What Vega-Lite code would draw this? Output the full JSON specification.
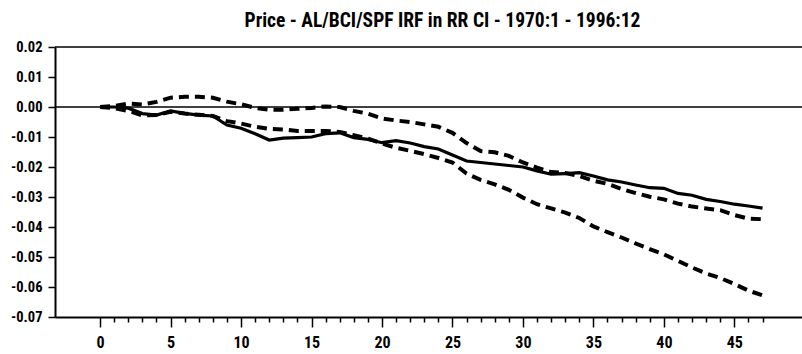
{
  "$schema": "https://vega.github.io/schema/vega-lite/v6.json",
  "autosize": {"type": "none"},
  "padding": {"left": 55, "top": 47, "right": 0, "bottom": 37},
  "width": 747,
  "height": 270,
  "background": "white",
  "title": {
    "text": "Price - AL/BCI/SPF IRF in RR CI - 1970:1 - 1996:12",
    "font": "Roboto Condensed, DejaVu Sans Condensed, sans-serif",
    "fontSize": 19.5,
    "fontWeight": "bold",
    "color": "black",
    "anchor": "middle",
    "dx": 14,
    "offset": 8
  },
  "config": {
    "view": {"stroke": null},
    "axis": {
      "labelFont": "Roboto Condensed, DejaVu Sans Condensed, sans-serif",
      "labelFontWeight": "bold",
      "labelColor": "black",
      "domainColor": "black",
      "tickColor": "black",
      "grid": false
    }
  },
  "datasets": {
    "irf": [
      {"h": 0, "series": "IRF", "value": 0.0},
      {"h": 1, "series": "IRF", "value": 0.0},
      {"h": 2, "series": "IRF", "value": -0.0004},
      {"h": 3, "series": "IRF", "value": -0.0022},
      {"h": 4, "series": "IRF", "value": -0.0027},
      {"h": 5, "series": "IRF", "value": -0.0013},
      {"h": 6, "series": "IRF", "value": -0.0021},
      {"h": 7, "series": "IRF", "value": -0.0027},
      {"h": 8, "series": "IRF", "value": -0.003},
      {"h": 9, "series": "IRF", "value": -0.006},
      {"h": 10, "series": "IRF", "value": -0.0071},
      {"h": 11, "series": "IRF", "value": -0.0089},
      {"h": 12, "series": "IRF", "value": -0.011},
      {"h": 13, "series": "IRF", "value": -0.0104},
      {"h": 14, "series": "IRF", "value": -0.0102},
      {"h": 15, "series": "IRF", "value": -0.01},
      {"h": 16, "series": "IRF", "value": -0.0089},
      {"h": 17, "series": "IRF", "value": -0.0086},
      {"h": 18, "series": "IRF", "value": -0.0102},
      {"h": 19, "series": "IRF", "value": -0.0108},
      {"h": 20, "series": "IRF", "value": -0.0119},
      {"h": 21, "series": "IRF", "value": -0.0112},
      {"h": 22, "series": "IRF", "value": -0.012},
      {"h": 23, "series": "IRF", "value": -0.0132},
      {"h": 24, "series": "IRF", "value": -0.014},
      {"h": 25, "series": "IRF", "value": -0.016},
      {"h": 26, "series": "IRF", "value": -0.018},
      {"h": 27, "series": "IRF", "value": -0.0185},
      {"h": 28, "series": "IRF", "value": -0.019},
      {"h": 29, "series": "IRF", "value": -0.0195},
      {"h": 30, "series": "IRF", "value": -0.02},
      {"h": 31, "series": "IRF", "value": -0.0213},
      {"h": 32, "series": "IRF", "value": -0.0224},
      {"h": 33, "series": "IRF", "value": -0.0222},
      {"h": 34, "series": "IRF", "value": -0.0219},
      {"h": 35, "series": "IRF", "value": -0.023},
      {"h": 36, "series": "IRF", "value": -0.0243},
      {"h": 37, "series": "IRF", "value": -0.025},
      {"h": 38, "series": "IRF", "value": -0.026},
      {"h": 39, "series": "IRF", "value": -0.0269},
      {"h": 40, "series": "IRF", "value": -0.0271},
      {"h": 41, "series": "IRF", "value": -0.0288},
      {"h": 42, "series": "IRF", "value": -0.0294},
      {"h": 43, "series": "IRF", "value": -0.0308},
      {"h": 44, "series": "IRF", "value": -0.0315},
      {"h": 45, "series": "IRF", "value": -0.0324},
      {"h": 46, "series": "IRF", "value": -0.033},
      {"h": 47, "series": "IRF", "value": -0.0337}
    ],
    "bands": [
      {"h": 0, "series": "Upper", "value": 0.0},
      {"h": 1, "series": "Upper", "value": 0.0003},
      {"h": 2, "series": "Upper", "value": 0.0012},
      {"h": 3, "series": "Upper", "value": 0.0008},
      {"h": 4, "series": "Upper", "value": 0.0017},
      {"h": 5, "series": "Upper", "value": 0.0031},
      {"h": 6, "series": "Upper", "value": 0.0034},
      {"h": 7, "series": "Upper", "value": 0.0034},
      {"h": 8, "series": "Upper", "value": 0.0031},
      {"h": 9, "series": "Upper", "value": 0.0018},
      {"h": 10, "series": "Upper", "value": 0.0009},
      {"h": 11, "series": "Upper", "value": -0.0003},
      {"h": 12, "series": "Upper", "value": -0.0009},
      {"h": 13, "series": "Upper", "value": -0.0009},
      {"h": 14, "series": "Upper", "value": -0.0006},
      {"h": 15, "series": "Upper", "value": -0.0003},
      {"h": 16, "series": "Upper", "value": 0.0002},
      {"h": 17, "series": "Upper", "value": 0.0},
      {"h": 18, "series": "Upper", "value": -0.0013},
      {"h": 19, "series": "Upper", "value": -0.0022},
      {"h": 20, "series": "Upper", "value": -0.0038},
      {"h": 21, "series": "Upper", "value": -0.0045},
      {"h": 22, "series": "Upper", "value": -0.005},
      {"h": 23, "series": "Upper", "value": -0.0058},
      {"h": 24, "series": "Upper", "value": -0.0066},
      {"h": 25, "series": "Upper", "value": -0.0086},
      {"h": 26, "series": "Upper", "value": -0.012},
      {"h": 27, "series": "Upper", "value": -0.0147},
      {"h": 28, "series": "Upper", "value": -0.0151},
      {"h": 29, "series": "Upper", "value": -0.0163},
      {"h": 30, "series": "Upper", "value": -0.0185},
      {"h": 31, "series": "Upper", "value": -0.0202},
      {"h": 32, "series": "Upper", "value": -0.0217},
      {"h": 33, "series": "Upper", "value": -0.022},
      {"h": 34, "series": "Upper", "value": -0.023},
      {"h": 35, "series": "Upper", "value": -0.0246},
      {"h": 36, "series": "Upper", "value": -0.0256},
      {"h": 37, "series": "Upper", "value": -0.0273},
      {"h": 38, "series": "Upper", "value": -0.0287},
      {"h": 39, "series": "Upper", "value": -0.0299},
      {"h": 40, "series": "Upper", "value": -0.0308},
      {"h": 41, "series": "Upper", "value": -0.0322},
      {"h": 42, "series": "Upper", "value": -0.0332},
      {"h": 43, "series": "Upper", "value": -0.0338},
      {"h": 44, "series": "Upper", "value": -0.0344},
      {"h": 45, "series": "Upper", "value": -0.036},
      {"h": 46, "series": "Upper", "value": -0.0372},
      {"h": 47, "series": "Upper", "value": -0.0374},
      {"h": 0, "series": "Lower", "value": 0.0},
      {"h": 1, "series": "Lower", "value": -0.0004},
      {"h": 2, "series": "Lower", "value": -0.0013},
      {"h": 3, "series": "Lower", "value": -0.0028},
      {"h": 4, "series": "Lower", "value": -0.0027},
      {"h": 5, "series": "Lower", "value": -0.0016},
      {"h": 6, "series": "Lower", "value": -0.0022},
      {"h": 7, "series": "Lower", "value": -0.0026},
      {"h": 8, "series": "Lower", "value": -0.003},
      {"h": 9, "series": "Lower", "value": -0.0047},
      {"h": 10, "series": "Lower", "value": -0.0055},
      {"h": 11, "series": "Lower", "value": -0.0066},
      {"h": 12, "series": "Lower", "value": -0.0073},
      {"h": 13, "series": "Lower", "value": -0.0075},
      {"h": 14, "series": "Lower", "value": -0.008},
      {"h": 15, "series": "Lower", "value": -0.008},
      {"h": 16, "series": "Lower", "value": -0.008},
      {"h": 17, "series": "Lower", "value": -0.0083},
      {"h": 18, "series": "Lower", "value": -0.0094},
      {"h": 19, "series": "Lower", "value": -0.0105},
      {"h": 20, "series": "Lower", "value": -0.0122},
      {"h": 21, "series": "Lower", "value": -0.0136},
      {"h": 22, "series": "Lower", "value": -0.0146},
      {"h": 23, "series": "Lower", "value": -0.0157},
      {"h": 24, "series": "Lower", "value": -0.017},
      {"h": 25, "series": "Lower", "value": -0.0185},
      {"h": 26, "series": "Lower", "value": -0.0222},
      {"h": 27, "series": "Lower", "value": -0.0243},
      {"h": 28, "series": "Lower", "value": -0.0258},
      {"h": 29, "series": "Lower", "value": -0.0276},
      {"h": 30, "series": "Lower", "value": -0.0302},
      {"h": 31, "series": "Lower", "value": -0.0324},
      {"h": 32, "series": "Lower", "value": -0.0338},
      {"h": 33, "series": "Lower", "value": -0.0352},
      {"h": 34, "series": "Lower", "value": -0.037},
      {"h": 35, "series": "Lower", "value": -0.0398},
      {"h": 36, "series": "Lower", "value": -0.0417},
      {"h": 37, "series": "Lower", "value": -0.0435},
      {"h": 38, "series": "Lower", "value": -0.0455},
      {"h": 39, "series": "Lower", "value": -0.0474},
      {"h": 40, "series": "Lower", "value": -0.0491},
      {"h": 41, "series": "Lower", "value": -0.0513},
      {"h": 42, "series": "Lower", "value": -0.0535},
      {"h": 43, "series": "Lower", "value": -0.0555},
      {"h": 44, "series": "Lower", "value": -0.057},
      {"h": 45, "series": "Lower", "value": -0.059},
      {"h": 46, "series": "Lower", "value": -0.0612},
      {"h": 47, "series": "Lower", "value": -0.0628}
    ],
    "refs": [
      {"level": 0},
      {"level": 0.02}
    ]
  },
  "layer": [
    {
      "data": {"name": "irf"},
      "mark": {"type": "line", "color": "black", "strokeWidth": 3.2},
      "encoding": {
        "x": {
          "field": "h",
          "type": "quantitative",
          "title": null,
          "scale": {"domain": [-3.2, 49.8], "nice": false, "zero": false},
          "axis": {
            "values": [0,1,2,3,4,5,6,7,8,9,10,11,12,13,14,15,16,17,18,19,20,21,22,23,24,25,26,27,28,29,30,31,32,33,34,35,36,37,38,39,40,41,42,43,44,45,46,47],
            "tickSize": {"condition": {"test": "datum.value % 5 === 0", "value": 10}, "value": 5},
            "tickWidth": 1.5,
            "domainWidth": 2,
            "labelExpr": "datum.value % 5 === 0 ? datum.label : ''",
            "labelOverlap": false,
            "labelFlush": false,
            "labelFontSize": 16,
            "labelPadding": 7
          }
        },
        "y": {
          "field": "value",
          "type": "quantitative",
          "title": null,
          "scale": {"domain": [-0.07, 0.02], "nice": false, "zero": false},
          "axis": {
            "values": [-0.07, -0.06, -0.05, -0.04, -0.03, -0.02, -0.01, 0, 0.01, 0.02],
            "labelExpr": "replace(format(datum.value, '.2f'), '\u2212', '-')",
            "tickSize": 7,
            "tickWidth": 1.5,
            "domainWidth": 2,
            "labelFontSize": 14.5,
            "labelPadding": 6
          }
        }
      }
    },
    {
      "data": {"name": "bands"},
      "mark": {"type": "line", "color": "black", "strokeWidth": 4, "strokeDash": [10, 6], "strokeCap": "butt"},
      "encoding": {
        "x": {
          "field": "h",
          "type": "quantitative",
          "title": null,
          "scale": {"domain": [-3.2, 49.8], "nice": false, "zero": false},
          "axis": {
            "values": [0,1,2,3,4,5,6,7,8,9,10,11,12,13,14,15,16,17,18,19,20,21,22,23,24,25,26,27,28,29,30,31,32,33,34,35,36,37,38,39,40,41,42,43,44,45,46,47],
            "tickSize": {"condition": {"test": "datum.value % 5 === 0", "value": 10}, "value": 5},
            "tickWidth": 1.5,
            "domainWidth": 2,
            "labelExpr": "datum.value % 5 === 0 ? datum.label : ''",
            "labelOverlap": false,
            "labelFlush": false,
            "labelFontSize": 16,
            "labelPadding": 7
          }
        },
        "y": {
          "field": "value",
          "type": "quantitative",
          "title": null,
          "scale": {"domain": [-0.07, 0.02], "nice": false, "zero": false},
          "axis": {
            "values": [-0.07, -0.06, -0.05, -0.04, -0.03, -0.02, -0.01, 0, 0.01, 0.02],
            "labelExpr": "replace(format(datum.value, '.2f'), '\u2212', '-')",
            "tickSize": 7,
            "tickWidth": 1.5,
            "domainWidth": 2,
            "labelFontSize": 14.5,
            "labelPadding": 6
          }
        },
        "detail": {"field": "series", "type": "nominal"}
      }
    },
    {
      "data": {"name": "refs"},
      "mark": {"type": "rule", "color": "black", "strokeWidth": 1.7},
      "encoding": {
        "y": {
          "field": "level",
          "type": "quantitative",
          "title": null,
          "scale": {"domain": [-0.07, 0.02], "nice": false, "zero": false},
          "axis": {
            "values": [-0.07, -0.06, -0.05, -0.04, -0.03, -0.02, -0.01, 0, 0.01, 0.02],
            "labelExpr": "replace(format(datum.value, '.2f'), '\u2212', '-')",
            "tickSize": 7,
            "tickWidth": 1.5,
            "domainWidth": 2,
            "labelFontSize": 14.5,
            "labelPadding": 6
          }
        }
      }
    }
  ]
}
